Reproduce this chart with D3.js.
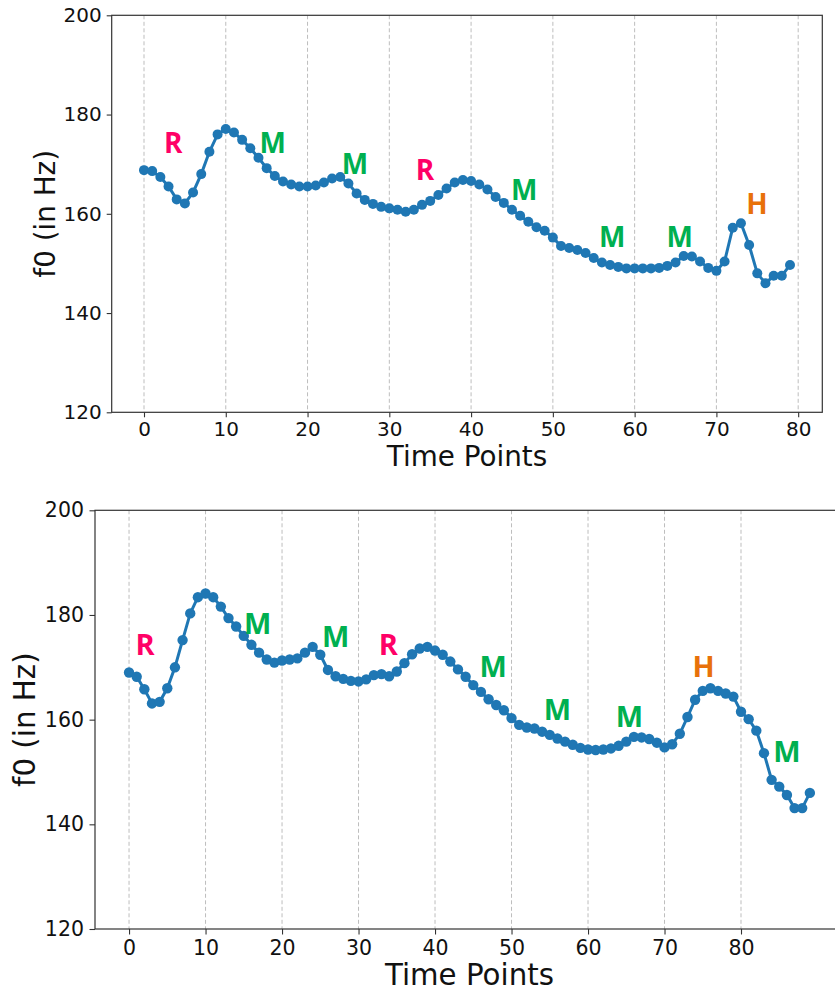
<!DOCTYPE html>
<html>
<head>
<meta charset="utf-8">
<script src="https://cdn.jsdelivr.net/npm/d3@7"></script>
<style>
  body { margin: 0; background: #fff; }
  svg { display: block; }
  .tick text { font-family: "DejaVu Sans", sans-serif; fill: #111; }
  .axis-title { font-family: "DejaVu Sans", sans-serif; fill: #111; }
  .tone { font-family: "Open Sans", sans-serif; font-weight: 700; }
</style>
</head>
<body>
<div id="chart"></div>
<script>
/* globals d3 */

// top panel: f0 contour, 80 time points
var topF0 = [
  168.8, 168.6, 167.4, 165.5, 162.9, 162.1, 164.3, 168.0, 172.5, 176.0,
  177.1, 176.4, 174.9, 173.2, 171.3, 169.2, 167.6, 166.5, 165.9, 165.5,
  165.5, 165.7, 166.3, 167.1, 167.4, 166.1, 164.1, 162.8, 162.0, 161.4,
  161.1, 160.8, 160.4, 160.8, 161.8, 162.6, 163.8, 165.1, 166.3, 166.8,
  166.6, 165.9, 164.9, 163.4, 162.2, 160.8, 159.6, 158.4, 157.3, 156.6,
  155.2, 153.5, 153.1, 152.7, 152.1, 151.1, 150.2, 149.7, 149.3, 149.0,
  149.0, 149.0, 149.0, 149.1, 149.5, 150.2, 151.5, 151.4, 150.4, 149.1,
  148.5, 150.4, 157.2, 158.1, 153.7, 148.0, 146.0, 147.5, 147.5, 149.7
];
var topTones = ['R', 'M', 'M', 'R', 'M', 'M', 'M', 'H'];
var topToneX = [3.58, 15.75, 25.8, 34.35, 46.5, 57.25, 65.5, 74.95];
var topToneY = [174.5, 174.5, 170.2, 169.0, 164.9, 155.5, 155.5, 162.2];

// bottom panel: f0 contour, 90 time points
var bottomF0 = [
  169.0, 168.2, 165.8, 163.1, 163.4, 166.0, 170.0, 175.2, 180.3, 183.4,
  184.1, 183.4, 181.6, 179.4, 177.8, 176.0, 174.3, 172.8, 171.5, 170.9,
  171.3, 171.5, 171.7, 172.8, 173.9, 172.4, 169.5, 168.3, 167.8, 167.4,
  167.3, 167.7, 168.5, 168.7, 168.3, 169.2, 170.8, 172.5, 173.6, 173.9,
  173.2, 172.4, 171.1, 169.6, 168.2, 166.6, 165.3, 163.9, 162.8, 161.8,
  160.3, 159.0, 158.5, 158.3, 157.7, 157.1, 156.4, 155.8, 155.2, 154.6,
  154.3, 154.2, 154.3, 154.5, 155.0, 155.8, 156.7, 156.6, 156.3, 155.6,
  154.7, 155.3, 157.3, 160.5, 163.8, 165.5, 166.0, 165.5, 165.0, 164.4,
  161.5, 160.1, 157.9, 153.6, 148.5, 147.2, 145.6, 143.1, 143.1, 146.0
];
var bottomTones = ['R', 'M', 'M', 'R', 'M', 'M', 'M', 'H', 'M'];
var bottomToneX = [2.1, 16.8, 27.0, 33.9, 47.6, 56.0, 65.4, 75.1, 86.0];
var bottomToneY = [174.6, 178.6, 176.0, 174.5, 170.4, 162.1, 160.8, 170.4, 154.1];

var xTicks = [0, 10, 20, 30, 40, 50, 60, 70, 80];
var yTicks = [120, 140, 160, 180, 200];

var toneColors = { R: '#ff0066', M: '#00b050', H: '#e8710a' };

var svg = d3.select('#chart').append('svg')
    .attr('width', 835)
    .attr('height', 991);

svg.append('rect').attr('width', 835).attr('height', 991).attr('fill', '#fff');

function drawPanel(opts){
    var values = opts.values;
    var n = values.length;
    var pad = (n - 1) * 0.05;
    var x = d3.scaleLinear().domain([-pad, n - 1 + pad]).range([opts.left, opts.right]);
    var y = d3.scaleLinear().domain([120, 200]).range([opts.bottom, opts.top]);
    var g = svg.append('g');

    // dashed vertical grid
    g.selectAll('line.grid')
        .data(xTicks)
        .enter().append('line')
        .attr('class', 'grid')
        .attr('x1', d => x(d)).attr('x2', d => x(d))
        .attr('y1', opts.top).attr('y2', opts.bottom)
        .attr('stroke', '#bdbdbd')
        .attr('stroke-width', 1)
        .attr('stroke-dasharray', '4,2.5');

    var xAxis = g.append('g')
        .attr('transform', `translate(0,${opts.bottom})`)
        .call(d3.axisBottom(x).tickValues(xTicks).tickSize(opts.tick).tickPadding(opts.tickPad));
    var yAxis = g.append('g')
        .attr('transform', `translate(${opts.left},0)`)
        .call(d3.axisLeft(y).tickValues(yTicks).tickSize(opts.tick).tickPadding(opts.tickPad));
    [xAxis, yAxis].forEach(a => {
        a.select('.domain').remove();
        a.selectAll('.tick line').attr('stroke', '#333').attr('stroke-width', 1.1);
        a.selectAll('.tick text').style('font-size', opts.tickFont + 'px');
    });

    // spines
    g.append('rect')
        .attr('x', opts.left).attr('y', opts.top)
        .attr('width', opts.right - opts.left)
        .attr('height', opts.bottom - opts.top)
        .attr('fill', 'none')
        .attr('stroke', '#333')
        .attr('stroke-width', 1.2);

    var line = d3.line().x((d, i) => x(i)).y(d => y(d));
    g.append('path')
        .datum(values)
        .attr('d', line)
        .attr('fill', 'none')
        .attr('stroke', '#1f77b4')
        .attr('stroke-width', 3);

    g.selectAll('circle.pt')
        .data(values)
        .enter().append('circle')
        .attr('class', 'pt')
        .attr('cx', (d, i) => x(i))
        .attr('cy', d => y(d))
        .attr('r', opts.r)
        .attr('fill', '#1f77b4');

    g.selectAll('text.tone')
        .data(opts.tones)
        .enter().append('text')
        .attr('class', 'tone')
        .attr('x', (d, i) => x(opts.toneX[i]))
        .attr('y', (d, i) => y(opts.toneY[i]))
        .attr('text-anchor', 'middle')
        .attr('dominant-baseline', 'central')
        .style('font-size', opts.toneFont + 'px')
        .attr('fill', d => toneColors[d])
        .text(d => d);

    g.append('text')
        .attr('class', 'axis-title')
        .attr('x', (opts.left + opts.right) / 2 + opts.xLabelShift)
        .attr('y', opts.xLabelY)
        .attr('text-anchor', 'middle')
        .style('font-size', opts.labelFont + 'px')
        .text('Time Points');

    g.append('text')
        .attr('class', 'axis-title')
        .attr('transform', `translate(${opts.yLabelX},${(opts.top + opts.bottom) / 2}) rotate(-90)`)
        .attr('text-anchor', 'middle')
        .attr('dominant-baseline', 'central')
        .style('font-size', opts.labelFont + 'px')
        .text('f0 (in Hz)');
}

drawPanel({
    values: topF0, tones: topTones, toneX: topToneX, toneY: topToneY,
    left: 111.7, right: 822.3, top: 15.3, bottom: 412.3,
    tick: 5, tickPad: 5, tickFont: 20, labelFont: 27.8, toneFont: 28, r: 5,
    xLabelY: 466, xLabelShift: 0, yLabelX: 45
});

drawPanel({
    values: bottomF0, tones: bottomTones, toneX: bottomToneX, toneY: bottomToneY,
    left: 95, right: 843.9, top: 510.3, bottom: 929,
    tick: 5.5, tickPad: 5.5, tickFont: 20.5, labelFont: 29.3, toneFont: 29, r: 5.2,
    xLabelY: 985, xLabelShift: 0, yLabelX: 25
});
</script>
</body>
</html>
